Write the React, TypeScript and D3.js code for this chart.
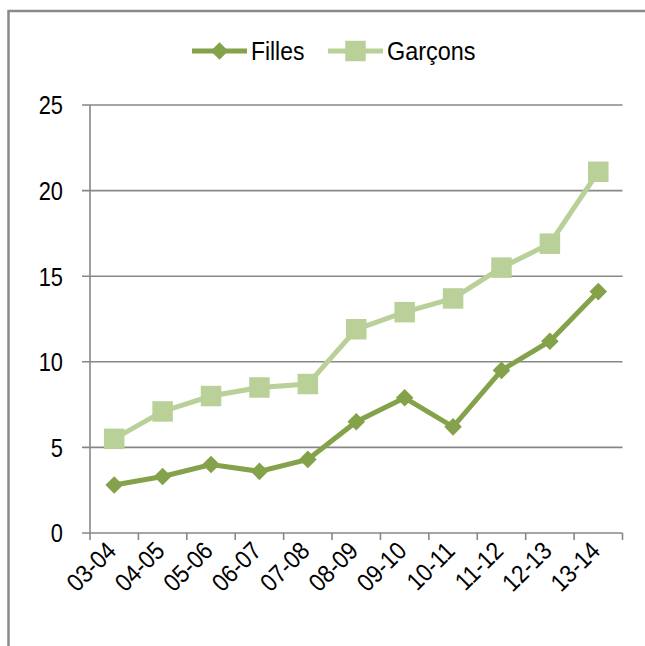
import React from "react";
import * as d3 from "d3";

const categories = ["03-04", "04-05", "05-06", "06-07", "07-08", "08-09", "09-10", "10-11", "11-12", "12-13", "13-14"];
const filles = [2.8, 3.3, 4.0, 3.6, 4.3, 6.5, 7.9, 6.2, 9.5, 11.2, 14.1];
const garcons = [5.5, 7.1, 8.0, 8.5, 8.7, 11.9, 12.9, 13.7, 15.5, 16.9, 21.1];
const yTicks = [0, 5, 10, 15, 20, 25];

const W = 645;
const H = 646;
const font = "'Liberation Sans', Arial, sans-serif";
const darkGreen = "#84A24A";
const lightGreen = "#B9D098";
const gridColor = "#878787";
// the original font is narrow (Calibri-like), so text is squeezed a bit
const narrow = 0.84;

export default function App() {
  const x = d3.scaleBand<string>().domain(categories).range([90, 622.5]);
  const y = d3.scaleLinear().domain([0, 25]).range([533, 105]);
  const cx = (c: string) => (x(c) ?? 0) + x.bandwidth() / 2;

  const line = d3
    .line<number>()
    .x((_, i) => cx(categories[i]))
    .y((d) => y(d));

  const diamond = d3.symbol(d3.symbolSquare, 155)();
  const square = d3.symbol(d3.symbolSquare, 420)();

  return (
    <svg
      width={W}
      height={H}
      style={{ position: "absolute", left: 0, top: 0, background: "#fff" }}
      fontFamily={font}
    >
      <rect x={8.5} y={11} width={800} height={800} fill="none" stroke="#8a8a8a" strokeWidth={2.5} />

      {/* grid + y labels */}
      {yTicks.map((t) => (
        <g key={t}>
          <line x1={82} x2={622.5} y1={y(t)} y2={y(t)} stroke={gridColor} strokeWidth={1.6} />
          <g transform={`translate(63,${y(t)}) scale(${narrow},1)`}>
            <text dy="0.36em" textAnchor="end" fontSize={26} fill="#000">
              {t}
            </text>
          </g>
        </g>
      ))}
      <line x1={90} x2={90} y1={y(25)} y2={y(0)} stroke={gridColor} strokeWidth={1.6} />
      {categories.concat([""]).map((c, i) => {
        const xx = 90 + i * x.bandwidth();
        return <line key={i} x1={xx} x2={xx} y1={y(0)} y2={y(0) + 7} stroke={gridColor} strokeWidth={1.6} />;
      })}
      {categories.map((c) => (
        <g key={c} transform={`translate(${cx(c) - 3},${y(0) + 13}) rotate(-45) scale(0.9,1)`}>
          <text textAnchor="end" dy="0.36em" fontSize={25} fill="#000">
            {c}
          </text>
        </g>
      ))}

      {/* series */}
      <path d={line(garcons) ?? ""} fill="none" stroke={lightGreen} strokeWidth={5} />
      {garcons.map((v, i) => (
        <path key={i} d={square ?? ""} transform={`translate(${cx(categories[i])},${y(v)})`} fill={lightGreen} />
      ))}
      <path d={line(filles) ?? ""} fill="none" stroke={darkGreen} strokeWidth={5} />
      {filles.map((v, i) => (
        <path
          key={i}
          d={diamond ?? ""}
          transform={`translate(${cx(categories[i])},${y(v)}) rotate(45)`}
          fill={darkGreen}
        />
      ))}

      {/* legend */}
      <line x1={192} x2={247} y1={51} y2={51} stroke={darkGreen} strokeWidth={5} />
      <path d={diamond ?? ""} transform="translate(219.5,51) rotate(45)" fill={darkGreen} />
      <g transform={`translate(251,51) scale(0.88,1)`}>
        <text dy="0.36em" fontSize={26} fill="#000">
          Filles
        </text>
      </g>
      <line x1={328} x2={383} y1={51} y2={51} stroke={lightGreen} strokeWidth={5} />
      <path d={square ?? ""} transform="translate(355.5,51)" fill={lightGreen} />
      <g transform={`translate(387,51) scale(0.9,1)`}>
        <text dy="0.36em" fontSize={26} fill="#000">
          Garçons
        </text>
      </g>
    </svg>
  );
}
